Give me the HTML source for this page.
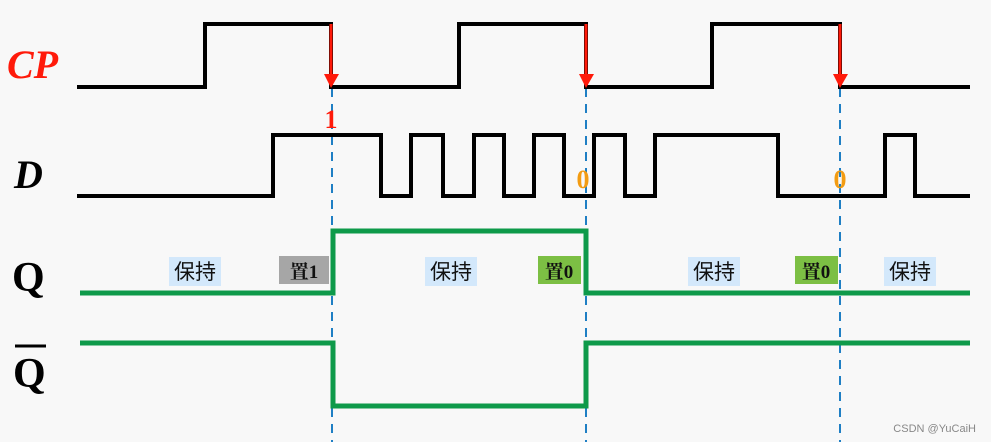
<!DOCTYPE html>
<html><head><meta charset="utf-8"><style>
html,body{margin:0;padding:0;background:#f8f8f8;}
svg{display:block}
</style></head><body>
<svg width="991" height="442" viewBox="0 0 991 442" xmlns="http://www.w3.org/2000/svg">
<rect width="991" height="442" fill="#f8f8f8"/>
<g font-family="'Liberation Serif',serif" font-weight="bold">
<text x="7" y="78" font-size="40" font-style="italic" fill="#ff1a0a">CP</text>
<text x="14" y="188" font-size="40" font-style="italic" fill="#000">D</text>
<text x="12" y="291" font-size="42" fill="#000">Q</text>
<text x="13" y="387" font-size="42" fill="#000">Q</text>
</g>
<line x1="15" y1="346" x2="46" y2="346" stroke="#000" stroke-width="3"/>
<!-- dashed -->
<g stroke="#1f7fc4" stroke-width="2" stroke-dasharray="9,7">
<line x1="332" y1="88" x2="332" y2="442"/>
<line x1="586" y1="88" x2="586" y2="442"/>
<line x1="840" y1="88" x2="840" y2="442"/>
</g>
<!-- CP -->
<polyline fill="none" stroke="#000" stroke-width="4" points="77,87 205,87 205,24 331,24 331,87 459,87 459,24 586,24 586,87 712,87 712,24 840,24 840,87 970,87"/>
<!-- D -->
<polyline fill="none" stroke="#000" stroke-width="4" points="77,196 273,196 273,135 381,135 381,196 411,196 411,135 443,135 443,196 474,196 474,135 504,135 504,196 534,196 534,135 564,135 564,196 594,196 594,135 625,135 625,196 655,196 655,135 778,135 778,196 885,196 885,135 915,135 915,196 970,196"/>
<!-- arrows -->
<g stroke="#ff1a0a" stroke-width="3" fill="#ff1a0a">
<line x1="331" y1="24" x2="331" y2="76"/>
<line x1="586" y1="24" x2="586" y2="76"/>
<line x1="840" y1="24" x2="840" y2="76"/>
</g>
<g fill="#ff1a0a">
<polygon points="324,74 339,74 331,88"/>
<polygon points="579,74 594,74 586,88"/>
<polygon points="833,74 848,74 840,88"/>
</g>
<text x="331" y="128" font-family="'Liberation Serif',serif" font-weight="bold" font-size="26" fill="#ff1a0a" text-anchor="middle">1</text>
<text x="583" y="188" font-family="'Liberation Serif',serif" font-weight="bold" font-size="26" fill="#f39c12" text-anchor="middle">0</text>
<text x="840" y="188" font-family="'Liberation Serif',serif" font-weight="bold" font-size="26" fill="#f39c12" text-anchor="middle">0</text>
<!-- Q -->
<polyline fill="none" stroke="#0e9a4a" stroke-width="5" points="80,293 333,293 333,231 586,231 586,293 970,293"/>
<polyline fill="none" stroke="#0e9a4a" stroke-width="5" points="80,343 333,343 333,406 586,406 586,343 970,343"/>
<!-- labels -->
<g font-family="'Liberation Sans','Noto Sans CJK SC',sans-serif" font-size="21" fill="#111" text-anchor="middle">
<rect x="169" y="257" width="52" height="29" fill="#d3e8fb"/>
<text x="195" y="279">保持</text>
<rect x="425" y="257" width="52" height="29" fill="#d3e8fb"/>
<text x="451" y="279">保持</text>
<rect x="688" y="257" width="52" height="29" fill="#d3e8fb"/>
<text x="714" y="279">保持</text>
<rect x="884" y="257" width="52" height="29" fill="#d3e8fb"/>
<text x="910" y="279">保持</text>
</g>
<g font-family="'Liberation Serif','Noto Serif CJK SC',serif" font-weight="bold" font-size="19" fill="#111" text-anchor="middle">
<rect x="279" y="256" width="50" height="28" fill="#a6a6a6"/>
<text x="304" y="278">置1</text>
<rect x="538" y="256" width="43" height="28" fill="#7cbf44"/>
<text x="559" y="278">置0</text>
<rect x="795" y="256" width="43" height="28" fill="#7cbf44"/>
<text x="816" y="278">置0</text>
</g>
<text x="976" y="432" font-family="'Liberation Sans',sans-serif" font-size="11" fill="#888" text-anchor="end">CSDN @YuCaiH</text>
</svg>
</body></html>
